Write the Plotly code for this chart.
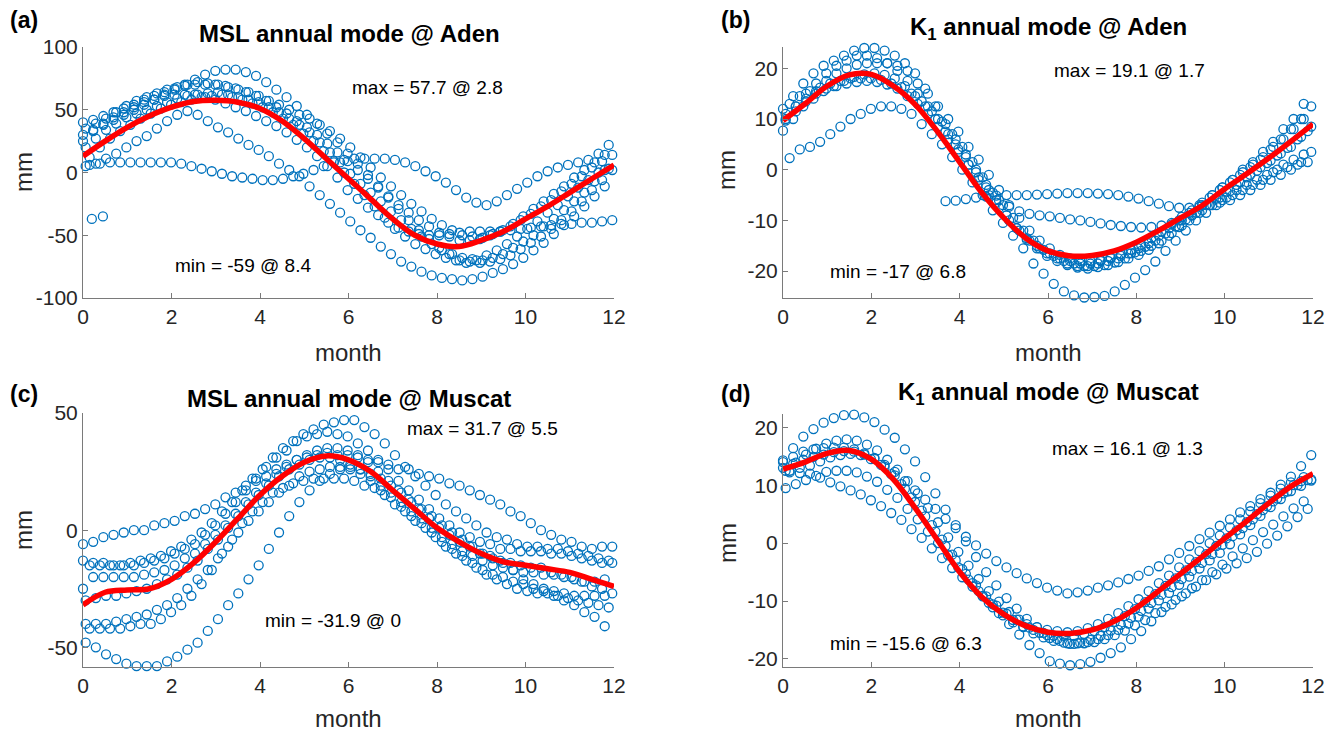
import plotly.graph_objects as go

# ---------------- data ----------------
X = [0, 0.23, 0.46, 0.69, 0.92, 1.15, 1.38, 1.61, 1.84, 2.07, 2.3, 2.53, 2.76, 2.99, 3.22, 3.45, 3.68, 3.91,
     4.14, 4.37, 4.6, 4.83, 5.06, 5.29, 5.52, 5.75, 5.98, 6.21, 6.44, 6.67, 6.9, 7.13, 7.36, 7.59, 7.82, 8.05,
     8.28, 8.51, 8.74, 8.97, 9.2, 9.43, 9.66, 9.89, 10.12, 10.35, 10.58, 10.81, 11.04, 11.27, 11.5, 11.73, 11.96]
X2 = [0.15, 0.38, 0.61, 0.84, 1.07, 1.3, 1.53, 1.76, 1.99, 2.22, 2.45, 2.68, 2.91, 3.14, 3.37, 3.6, 3.83, 4.06,
      4.29, 4.52, 4.75, 4.98, 5.21, 5.44, 5.67, 5.9, 6.13, 6.36, 6.59, 6.82, 7.05, 7.28, 7.51, 7.74, 7.97, 8.2,
      8.43, 8.66, 8.89, 9.12, 9.35, 9.58, 9.81, 10.04, 10.27, 10.5, 10.73, 10.96, 11.19, 11.42, 11.65, 11.88, 12.11]
X3 = [0.06, 0.29, 0.52, 0.75, 0.98, 1.21, 1.44, 1.67, 1.9, 2.13, 2.36, 2.59, 2.82, 3.05, 3.28, 3.51, 3.74, 3.97,
      4.2, 4.43, 4.66, 4.89, 5.12, 5.35, 5.58, 5.81, 6.04, 6.27, 6.5, 6.73, 6.96, 7.19, 7.42, 7.65, 7.88, 8.11,
      8.34, 8.57, 8.8, 9.03, 9.26, 9.49, 9.72, 9.95, 10.18, 10.41, 10.64, 10.87, 11.1, 11.33, 11.56, 11.79, 12.02]
RED_X = [0, 0.5, 1, 1.5, 2, 2.5, 3, 3.5, 4, 4.5, 5, 5.5, 6, 6.5, 7, 7.5, 8, 8.5, 9, 9.5, 10, 10.5, 11, 11.5, 12]

# (a) MSL annual mode @ Aden
A1 = [30,34,38,42,46,50,54,58,62,66,70,74,78,81,82,82,80,77,72,66,60,53,46,39,31,24,15,7,-2,-11,-20,-29,-38,-46,-53,-60,-65,-70,-71,-72,-71,-69,-66,-61,-56,-51,-45,-38,-31,-23,-14,-6,2]
A2 = [5,7,11,15,20,25,29,35,41,46,49,46,41,36,32,27,22,18,13,7,2,-3,-11,-18,-25,-32,-39,-46,-52,-59,-65,-71,-75,-79,-82,-84,-85,-86,-85,-83,-80,-77,-73,-68,-62,-56,-49,-42,-35,-27,-19,-11,-3]
A3 = [6,7,8,8,8,8,8,8,8,7,5,3,1,-1,-3,-4,-5,-6,-6,-5,-3,-1,2,5,8,10,11,11,11,11,10,8,5,1,-3,-8,-14,-20,-24,-26,-23,-18,-13,-8,-3,1,4,6,8,10,15,22,28]
A4 = [40,42,45,48,51,54,58,61,64,67,69,70,70,70,69,67,64,61,57,52,47,41,36,30,23,16,9,2,-5,-12,-19,-26,-32,-38,-43,-48,-51,-54,-54,-53,-50,-47,-43,-38,-33,-27,-22,-15,-9,-3,4,9,14]
A5 = [20,27,34,39,44,47,50,53,56,59,61,62,63,64,62,60,58,56,52,48,43,38,32,24,16,8,-1,-9,-16,-23,-31,-38,-45,-51,-57,-62,-65,-68,-69,-70,-68,-65,-60,-55,-50,-43,-37,-30,-23,-16,-7,2,10]
A6 = [12,20,27,33,38,43,47,51,54,56,58,60,61,62,60,58,55,52,48,43,38,31,25,17,9,0,-9,-18,-27,-36,-45,-51,-57,-61,-65,-68,-70,-72,-70,-66,-62,-57,-51,-45,-39,-32,-26,-19,-12,-6,0,3,5]
A7 = [25,33,39,44,48,52,56,58,61,62,62,62,60,58,55,52,49,45,41,37,32,26,20,13,5,-4,-14,-21,-28,-34,-40,-44,-47,-49,-50,-50,-49,-48,-47,-47,-47,-47,-46,-45,-44,-43,-42,-41,-41,-40,-40,-39,-38]
A8 = [35,39,43,48,53,57,60,63,66,68,70,72,71,70,68,66,64,61,57,54,50,46,43,38,33,27,20,12,4,-4,-11,-18,-25,-31,-37,-42,-46,-50,-51,-52,-49,-46,-41,-35,-29,-23,-17,-11,-4,2,8,14,20]
A_OUT_X = [0.2, 0.45]
A_OUT_Y = [-37, -35]
RED_A = [13,25,36,45,52,56.5,57.5,56,51,41,27,11,-5,-21,-37,-50,-57,-59,-54,-47,-37,-27,-16,-5,6]

# (b) K1 annual mode @ Aden
B1 = [12,14.5,17,19,20.5,21.5,22.5,23.5,24,24,23.5,22.5,21,19,16,12.5,9,6,3,0,-3,-6,-9,-11.5,-13.5,-15,-16.5,-17.5,-18.5,-19,-19,-18.5,-18,-17.5,-16.5,-15.5,-14.5,-13,-11.5,-10,-8.5,-7,-5.5,-4,-2.5,-1,0.5,2,4,6,8,10,12.5]
B2 = [10,12.5,15,17,19,20.5,21.5,22.5,22.5,22,21,19.5,17.5,15,12.5,10,7,4,1,-2,-5,-7.5,-10,-12,-14,-15.5,-16.5,-17.5,-18,-18.5,-18.5,-18,-17.5,-17,-16.5,-16,-15,-14,-12.5,-11,-9,-7,-5,-3.5,-2,0,1.5,3.5,5.5,8,10,13,15.5]
B3 = [2.3,4,4.5,5.5,7,8.5,10,11,12,12.5,12.5,12,11,9,7,5,2.5,0,-2.5,-5,-8,-10.5,-13,-15.5,-18.5,-20.5,-22.5,-24,-24.8,-25.2,-25.1,-24.9,-24,-22.7,-21.3,-19.8,-18.1,-16,-14,-12,-10,-8.5,-7,-5.5,-4,-3,-2,-1,0,0.5,1,1.5,2]
B4 = [None,None,None,None,None,None,None,None,None,None,None,None,None,None,None,None,
      -6.2,-6.1,-5.8,-5.5,-5.3,-5.1,-5,-5,-5,-4.9,-4.8,-4.7,-4.6,-4.6,-4.6,-4.7,-4.8,-5,-5.3,-5.7,-6.2,-6.7,-7.2,-7.5,-7.5,-7.3,-7,-6.5,-6,-5,-4,-3,-2,-1,0,1.5,3.5]
B5 = [11,12.5,14,15,16,16.5,17,17.3,17.5,17.3,16.8,16,14.5,13,11,8.5,6,3.5,1,-1.5,-4,-6,-7.3,-8.2,-8.7,-9,-9.2,-9.5,-9.8,-10,-10.3,-10.6,-10.9,-11.1,-11.3,-11.4,-11.3,-11,-10.5,-10,-9,-8,-7,-6,-5,-4,-3,-2,-0.5,1,2,3,3.5]
B6 = [13,14.5,15.5,16.2,17,17.5,18,18,18,17.7,17,16.3,15,13.5,11.5,9.5,7,4.5,1.5,-1.5,-4.5,-7,-9.5,-12,-14,-15.8,-17,-18,-18.5,-19,-19,-18.8,-18.3,-17.5,-16.3,-15.2,-14,-12.6,-11.2,-9.8,-8.5,-7,-5.7,-4.3,-3,-1.5,-0.2,1.3,2.8,4.3,6,7.6,9.3]
B7 = [7.7,10,12.5,14,15.5,16.5,17.5,18.3,18.8,19,18.7,18,16.5,14.5,12.5,10,7.5,5,2.5,-0.5,-3.5,-6.5,-9,-11.5,-13.8,-15.5,-17,-18,-18.8,-19.3,-19.5,-19.2,-18.8,-18.2,-17.5,-16.8,-15.8,-14.5,-13,-11.3,-10,-8.5,-7,-5.5,-4.2,-2.5,-1,0.5,1.8,3.2,4.5,6.5,8.5]
B8 = [9.7,11.5,13.5,15.5,17.5,19,20,20.7,21,21,21,20.5,19.5,17,15,12.5,10,7.5,4.5,2,-1,-4,-7,-9.5,-12,-14,-15.5,-16.8,-17.5,-18,-18,-17.8,-17.3,-16.6,-15.8,-14.8,-13.5,-12.2,-10.8,-9.3,-8,-6.5,-5,-3.5,-2,-0.5,1,2.5,4.5,6,8,10,12.5]
RED_B = [9.7,13,16.5,18.7,18.8,16.5,12.8,7.5,1.5,-4.5,-9.5,-13.5,-16,-17,-16.9,-16,-14.3,-12,-9.5,-7,-3.8,-0.8,2.3,5.6,9]

# (c) MSL annual mode @ Muscat
C1 = [-6,-5,-3,-2,-1,0,0,2,3,4,6,7,9,11,14,16,19,21,23,26,28,30,31,32,33,32,32,31,30,29,28,26,26,24,23,22,20,19,17,15,13,11,8,6,3,0,-2,-4,-5,-7,-8,-7,-7]
C2 = [-48,-50,-53,-55,-57,-58,-58,-58,-56,-54,-51,-48,-43,-38,-32,-27,-21,-15,-8,-1,6,12,17,21,24,26,27,26,24,22,19,16,12,9,6,2,-1,-4,-7,-10,-12,-14,-17,-21,-23,-26,-28,-30,-32,-35,-37,-41,-44]
C3 = [-15,-15,-15,-15,-14,-13,-12,-11,-9,-7,-4,-1,3,8,12,17,22,26,31,35,38,41,43,45,46,47,47,44,41,37,32,27,23,19,15,11,8,5,2,-1,-3,-4,-6,-7,-7,-8,-8,-9,-10,-11,-12,-13,-13]
C4 = [-13,-14,-14,-15,-15,-15,-14,-13,-12,-10,-8,-6,-2,2,7,12,17,22,27,31,34,38,40,41,42,41,40,37,34,30,26,21,17,13,9,5,2,-1,-3,-5,-6,-8,-8,-9,-9,-9,-10,-10,-11,-12,-13,-14,-14]
C5 = [-40,-40,-40,-39,-38,-37,-36,-34,-32,-29,-25,-21,-17,-12,-7,-1,4,8,12,16,19,23,25,26,27,27,26,24,21,17,14,10,6,3,-1,-5,-8,-11,-14,-17,-19,-20,-22,-23,-25,-25,-26,-27,-28,-28,-28,-28,-27]
C6 = [-42,-42,-42,-42,-41,-40,-40,-38,-35,-32,-28,-23,-17,-10,-4,3,8,12,16,18,20,21,22,22,22,22,21,19,18,15,11,8,4,1,-3,-7,-10,-13,-16,-19,-21,-23,-25,-26,-27,-27,-28,-29,-30,-31,-32,-33,-33]
C7 = [-25,-20,-20,-20,-20,-20,-19,-18,-17,-15,-12,-10,-6,-2,2,7,12,16,20,24,27,30,32,34,35,35,34,32,29,25,21,17,13,9,5,1,-2,-5,-7,-10,-11,-13,-14,-15,-16,-16,-18,-19,-20,-22,-24,-25,-27]
C8 = [-30,-29,-28,-28,-27,-26,-25,-23,-21,-19,-16,-13,-8,-4,1,6,11,15,19,23,26,28,30,31,31,30,28,26,23,19,16,12,8,5,1,-3,-6,-9,-11,-13,-15,-16,-17,-18,-18,-19,-19,-20,-21,-22,-22,-21,-20]
RED_C = [-31.9,-26.5,-25.5,-25,-21,-14,-5,5,15,23,29,31.7,30,25,17,9,1,-5,-10,-13.5,-15,-16.5,-18,-21,-24]

# (d) K1 annual mode @ Muscat
D1 = [14.3,16.4,18.4,19.7,20.8,21.6,22.1,22.2,21.7,20.9,19.6,18.2,16.2,14.1,11.4,8.6,5.8,3.1,0.3,-2.4,-5,-7.3,-9.5,-11.3,-13.1,-14.5,-15.9,-16.6,-17.3,-17.3,-17.1,-16.6,-15.9,-15,-13.9,-12.7,-11.3,-9.9,-8.6,-7.2,-5.8,-4.4,-3,-1.7,-0.2,1.5,3.1,4.7,6.2,7.6,9,9.9,10.8]
D2 = [12.5,13.9,15.3,16.3,17.2,17.7,17.9,17.7,17,16,14.4,12.7,10.7,8.6,6.1,3.6,1,-1.5,-3.9,-6.2,-8.3,-10.1,-11.9,-13.2,-14.6,-15.5,-16.4,-16.9,-17.4,-17.2,-16.7,-16,-15.1,-14.1,-12.9,-11.7,-10.3,-8.9,-7.6,-6.2,-4.8,-3.4,-1.9,-0.3,1.2,2.6,4.1,5.7,7.2,8.6,10,11.4,12.8]
D3 = [12.2,12.1,12,11.3,10.5,9.8,9.1,8.4,7.4,6.4,5.2,4,2.4,0.9,-0.9,-2.6,-4.3,-5.9,-7.5,-9.1,-10.6,-12,-13.3,-14.5,-15.6,-16.3,-16.9,-17.2,-17.4,-17.3,-17.1,-16.6,-15.9,-15.1,-14.2,-13.3,-12.1,-11,-9.8,-8.7,-7.5,-6.4,-5.4,-4.4,-3.5,-2.6,-1.5,-0.1,1.3,2.9,4.5,5.9,7.3]
D4 = [14,14.9,15.8,16.2,16.4,16.5,16.5,16.2,15.5,14.7,13.5,12.3,10.7,9.1,7.5,5.9,4.2,2.6,1.1,-0.4,-1.8,-3.1,-4.2,-5.2,-6.1,-6.9,-7.7,-8.2,-8.7,-8.5,-8.2,-7.7,-7.3,-6.8,-6.2,-5.6,-4.8,-4,-2.8,-1.7,-0.5,0.7,1.8,3,4.1,5.3,6.4,7.6,8.7,10.1,11.5,13.3,15.2]
D5 = [9.5,10.2,10.9,11.6,12.3,12.5,12.5,12.2,11.5,10.6,9.2,7.8,5.9,4.1,2,0,-2.1,-4.2,-6.3,-8.3,-10.3,-12.1,-14,-15.8,-17.6,-19,-20.4,-20.8,-21.1,-20.9,-20.5,-19.8,-19,-18,-16.6,-15.2,-13.5,-11.9,-10.6,-9.2,-7.8,-6.4,-5,-3.7,-2.3,-0.9,0.5,1.9,3.2,4.6,6,7.2,8.4]
D6 = [12.5,13,13.4,14.1,14.8,15.2,15.4,15.2,14.5,13.5,11.9,10.2,7.9,5.6,3.1,0.6,-2,-4.5,-6.9,-9.2,-11.1,-12.5,-13.7,-14.4,-15,-15.5,-16,-16,-16,-15.7,-15.2,-14.5,-13.6,-12.6,-11.4,-10.2,-8.8,-7.4,-6.1,-4.7,-3.3,-1.9,-0.5,0.8,2.2,3.6,5,6.4,7.7,8.9,10,10.9,11.8]
D7 = [13,13.7,14.4,14.9,15.3,15.7,15.9,15.8,15.3,14.6,13.2,11.7,9.4,7.1,4.6,2,-0.5,-3,-5.3,-7.3,-9.2,-10.8,-12.2,-13.2,-14,-14.5,-15,-15.2,-15.4,-15.2,-14.7,-14,-13.1,-12.1,-10.9,-9.7,-8.3,-6.9,-5.6,-4.2,-2.8,-1.4,0,1.3,2.7,4.1,5.5,6.9,8.2,9.4,10.5,10.7,11]
RED_D = [12.8,14,15.5,16,14.5,11,6,0.5,-5,-9.3,-12.3,-14.3,-15.4,-15.6,-15,-13.5,-11.2,-8.3,-5.3,-2.3,0.8,3.8,6.9,9.8,12]

XT = [0, 2, 4, 6, 8, 10, 12]
YT_A = [-100, -50, 0, 50, 100]
YT_A_TXT = ["-100", "-50", "0", "50", "100"]
YT_B = [-20, -10, 0, 10, 20]
YT_B_TXT = ["-20", "-10", "0", "10", "20"]
YT_C = [-50, 0, 50]
YT_C_TXT = ["-50", "0", "50"]

TITLES = ["<b>MSL annual mode @ Aden</b>", "<b>K<sub>1</sub> annual mode @ Aden</b>",
          "<b>MSL annual mode @ Muscat</b>", "<b>K<sub>1</sub> annual mode @ Muscat</b>"]
LETTERS = ["<b>(a)</b>", "<b>(b)</b>", "<b>(c)</b>", "<b>(d)</b>"]
MAXTXT = ["max = 57.7 @ 2.8", "max = 19.1 @ 1.7", "max = 31.7 @ 5.5", "max = 16.1 @ 1.3"]
MINTXT = ["min = -59 @ 8.4", "min = -17 @ 6.8", "min = -31.9 @ 0", "min = -15.6 @ 6.3"]

# ---------------- figure ----------------
W, H = 1340, 731
FONT = "Liberation Sans, Arial, Helvetica, sans-serif"
BLUE = "#0072BD"
AX = "#7a7a7a"
TXT = "#262626"

fig = go.Figure()

XS = [X, X3, X2, X, X3, X2, X, X3]
panels = [
    dict(series=[A1, A2, A3, A4, A5, A6, A7, A8], red=RED_A, xa="x", ya="y"),
    dict(series=[B1, B2, B3, B4, B5, B6, B7, B8], red=RED_B, xa="x2", ya="y2"),
    dict(series=[C1, C2, C3, C4, C5, C6, C7, C8], red=RED_C, xa="x3", ya="y3"),
    dict(series=[D1, D2, D3, D4, D5, D6, D7], red=RED_D, xa="x4", ya="y4"),
]

mk = dict(symbol="circle-open", size=9, color=BLUE, line=dict(width=1.3, color=BLUE))
for p in panels:
    for j, s in enumerate(p["series"]):
        fig.add_trace(go.Scatter(x=XS[j], y=s, mode="markers", marker=mk, xaxis=p["xa"], yaxis=p["ya"],
                                 showlegend=False, hoverinfo="skip", cliponaxis=False))
fig.add_trace(go.Scatter(x=A_OUT_X, y=A_OUT_Y, mode="markers", marker=mk, xaxis="x", yaxis="y",
                         showlegend=False, hoverinfo="skip", cliponaxis=False))
for p in panels:
    fig.add_trace(go.Scatter(x=RED_X, y=p["red"], mode="lines", line=dict(color="#ff0000", width=5.5, shape="spline"),
                             xaxis=p["xa"], yaxis=p["ya"], showlegend=False, hoverinfo="skip"))

# axis geometry in pixels
LEFT = [(83, 614), (783, 1313), (83, 614), (783, 1313)]
TOPBOT = [(47, 298), (47, 298), (413, 667), (414, 667)]
YR = [[-100, 100], [-25.3, 24.2], [-58.4, 50], [-21.4, 22.3]]
YTV = [YT_A, YT_B, YT_C, YT_B]
YTT = [YT_A_TXT, YT_B_TXT, YT_C_TXT, YT_B_TXT]

layout = dict(width=W, height=H, margin=dict(l=0, r=0, t=0, b=0, autoexpand=False), paper_bgcolor="white",
              plot_bgcolor="white", font=dict(family=FONT, color=TXT), showlegend=False)
for i in range(4):
    sfx = "" if i == 0 else str(i + 1)
    x0, x1 = LEFT[i]
    t, b = TOPBOT[i]
    layout["xaxis" + sfx] = dict(domain=[x0 / W, x1 / W], anchor="y" + sfx, range=[0, 12], automargin=False,
                                 tickvals=XT, ticktext=[str(v) for v in XT], showline=True, linecolor=AX,
                                 linewidth=1, ticks="inside", ticklen=5, tickcolor=AX, showgrid=False,
                                 zeroline=False, tickfont=dict(size=21, color=TXT, family=FONT))
    layout["yaxis" + sfx] = dict(domain=[1 - b / H, 1 - t / H], anchor="x" + sfx, range=YR[i], automargin=False,
                                 tickvals=YTV[i], ticktext=YTT[i], showline=True, linecolor=AX, linewidth=1,
                                 ticks="inside", ticklen=5, tickcolor=AX, showgrid=False, zeroline=False,
                                 tickfont=dict(size=21, color=TXT, family=FONT))
fig.update_layout(**layout)

ann = []
LET_POS = [(24, 20), (735, 20), (24, 394), (735, 394)]
TIT_POS = [(349, 33), (1048, 28), (349, 399), (1048, 393)]
MONTH_Y = [352, 352, 718, 718]
MM_X = [23, 727, 23, 727]
MM_Y = [172, 170, 530, 543]
MAX_POS = [(6.03, 67.5), (6.1, 19.6), (7.28, 43.4), (6.04, 16.4)]
MIN_POS = [(2.03, -73.8), (1.02, -20.0), (4.07, -38.7), (1.02, -17.4)]


def paper_ann(text, px, py, size, color, angle=0):
    return dict(text=text, x=px / W, y=1 - py / H, xref="paper", yref="paper", xanchor="center",
                yanchor="middle", textangle=angle, showarrow=False,
                font=dict(size=size, color=color, family=FONT))


for i in range(4):
    sfx = "" if i == 0 else str(i + 1)
    x0, x1 = LEFT[i]
    ann.append(paper_ann(LETTERS[i], LET_POS[i][0], LET_POS[i][1], 23, "black"))
    ann.append(paper_ann(TITLES[i], TIT_POS[i][0], TIT_POS[i][1], 24, "black"))
    ann.append(paper_ann("month", (x0 + x1) / 2, MONTH_Y[i], 24, TXT))
    ann.append(paper_ann("mm", MM_X[i], MM_Y[i], 24, TXT, -90))
    ann.append(dict(text=MAXTXT[i], x=MAX_POS[i][0], y=MAX_POS[i][1], xref="x" + sfx, yref="y" + sfx,
                    xanchor="left", yanchor="middle", showarrow=False,
                    font=dict(size=19, color="black", family=FONT)))
    ann.append(dict(text=MINTXT[i], x=MIN_POS[i][0], y=MIN_POS[i][1], xref="x" + sfx, yref="y" + sfx,
                    xanchor="left", yanchor="middle", showarrow=False,
                    font=dict(size=19, color="black", family=FONT)))
fig.update_layout(annotations=ann)

fig.write_html("out.html", config={"displayModeBar": False},
               post_script="document.body.style.margin='0px';document.body.style.overflow='hidden';")
